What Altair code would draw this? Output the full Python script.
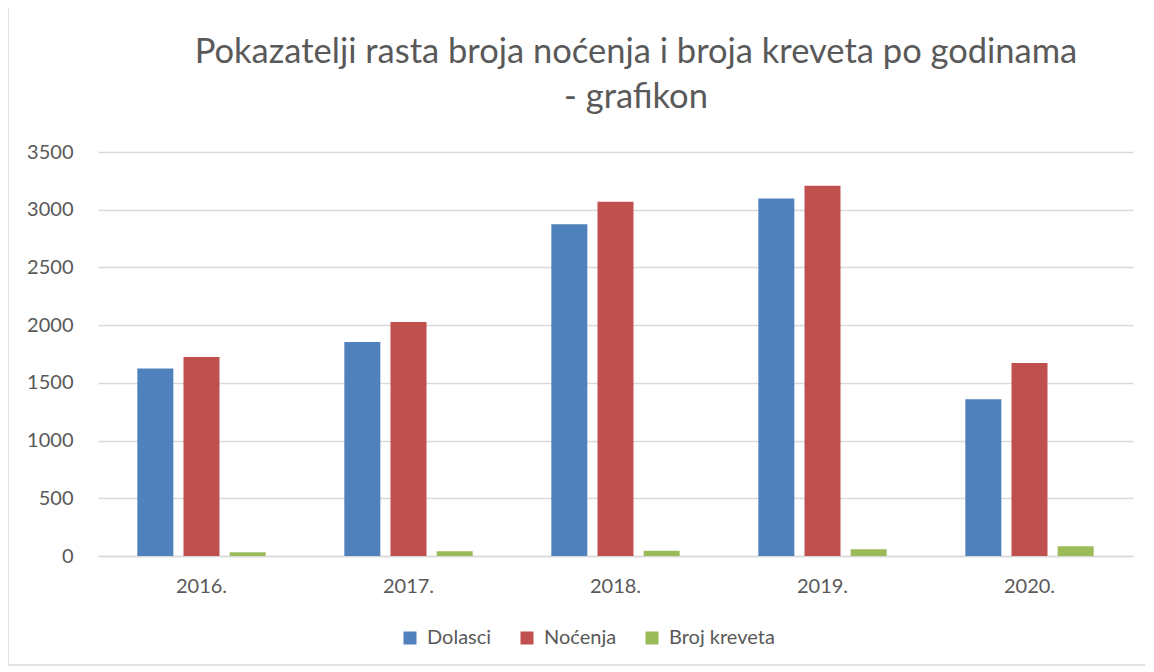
import altair as alt
import pandas as pd

years = ["2016.", "2017.", "2018.", "2019.", "2020."]
series = ["Dolasci", "Noćenja", "Broj kreveta"]
dolasci = [1625, 1853, 2873, 3098, 1357]
nocenja = [1723, 2027, 3068, 3207, 1671]
kreveti = [32, 41, 46, 58, 84]
colors = ["#4F81BD", "#C0504D", "#9BBB59"]
title_lines = ["Pokazatelji rasta broja noćenja i broja kreveta po godinama", "- grafikon"]

rows = []
for i, y in enumerate(years):
    for s, vals in zip(series, [dolasci, nocenja, kreveti]):
        rows.append({"godina": y, "serija": s, "vrijednost": vals[i]})
df = pd.DataFrame(rows)

FONT = "Lato"
GREY = "#595959"
W, H = 1035, 404
FS = 20
TFS = 34.5

bars = alt.Chart(df).mark_bar().encode(
    x=alt.X("godina:N", sort=years, title=None,
            scale=alt.Scale(paddingInner=0.38, paddingOuter=0.19),
            axis=alt.Axis(labelAngle=0, labelFontSize=FS, labelColor=GREY, labelFont=FONT,
                          ticks=False, domainColor="#d9d9d9", domainWidth=1.5, labelPadding=20)),
    xOffset=alt.XOffset("serija:N", sort=series,
                        scale=alt.Scale(paddingInner=0.22, paddingOuter=0)),
    y=alt.Y("vrijednost:Q", title=None,
            scale=alt.Scale(domain=[0, 3500]),
            axis=alt.Axis(values=[0, 500, 1000, 1500, 2000, 2500, 3000, 3500], format="d",
                          labelFontSize=FS, labelColor=GREY, labelFont=FONT,
                          ticks=False, domain=False, gridColor="#d9d9d9", gridWidth=1.5,
                          labelPadding=25)),
    color=alt.Color("serija:N", sort=series,
                    scale=alt.Scale(domain=series, range=colors),
                    legend=alt.Legend(title=None, orient="none", direction="horizontal",
                                      legendX=302, legendY=476, symbolType="square",
                                      symbolSize=169, labelFontSize=FS, labelColor=GREY,
                                      labelFont=FONT, columnPadding=25, labelOffset=7,
                                      symbolStrokeWidth=0)),
)

border = alt.Chart(pd.DataFrame({"a": [0]})).mark_rect(
    fill=None, stroke="#d9d9d9", strokeWidth=1.5
).encode(
    x=alt.value(-90), x2=alt.value(1048), y=alt.value(-145), y2=alt.value(513)
)

t1 = alt.Chart(pd.DataFrame({"a": [0]})).mark_text(
    font=FONT, fontSize=TFS, color=GREY, align="center", baseline="alphabetic"
).encode(x=alt.value(538), y=alt.value(-89), text=alt.value(title_lines[0]))
t2 = alt.Chart(pd.DataFrame({"a": [0]})).mark_text(
    font=FONT, fontSize=TFS, color=GREY, align="center", baseline="alphabetic"
).encode(x=alt.value(538), y=alt.value(-44), text=alt.value(title_lines[1]))

chart = alt.layer(border, bars, t1, t2).properties(
    width=W, height=H,
    padding={"left": 90, "top": 144, "right": 12, "bottom": 110},
    autosize=alt.AutoSizeParams(type="none"),
).configure_view(stroke=None)

chart.save("out.html", embed_options={"renderer": "svg", "actions": False})
